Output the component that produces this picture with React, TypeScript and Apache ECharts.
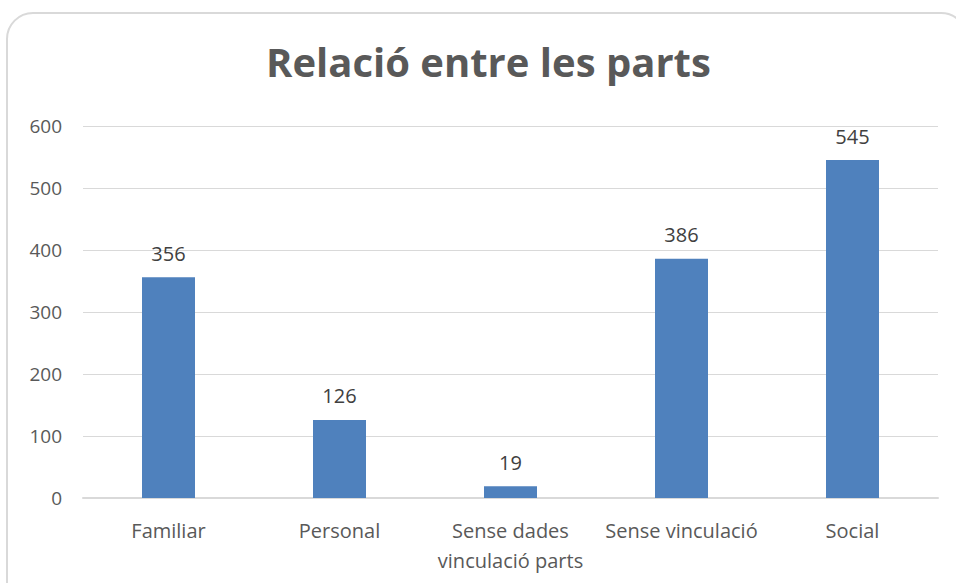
import React, { useEffect, useRef } from "react";
import * as echarts from "echarts";

const categories = ["Familiar", "Personal", "Sense dades\nvinculació parts", "Sense vinculació", "Social"];
const values = [356, 126, 19, 386, 545];
const titleText = "Relació entre les parts";

export default function App() {
  const ref = useRef<HTMLDivElement>(null);
  useEffect(() => {
    document.body.style.margin = "0";
    const chart = echarts.init(ref.current!, null, { renderer: "svg" });
    chart.setOption({
      animation: false,
      backgroundColor: "#ffffff",
      textStyle: { fontFamily: "Open Sans" },
      title: {
        text: titleText,
        left: 261,
        top: 36,
        textStyle: { fontSize: 40, fontWeight: "bold", color: "#595959", fontFamily: "Open Sans" },
      },
      graphic: [
        {
          type: "rect",
          shape: { x: 7, y: 13, width: 960, height: 620, r: 26 },
          style: { fill: "none", stroke: "#d9d9d9", lineWidth: 2 },
          silent: true,
          z: -1,
        },
      ],
      grid: { left: 83, right: 18, top: 126, bottom: 85 },
      xAxis: {
        type: "category",
        data: categories,
        axisLine: { lineStyle: { color: "#d9d9d9", width: 2 } },
        axisTick: { show: false },
        axisLabel: { color: "#595959", fontSize: 20, margin: 17, lineHeight: 30, interval: 0 },
      },
      yAxis: {
        type: "value",
        min: 0,
        max: 600,
        interval: 100,
        axisLine: { show: false },
        axisTick: { show: false },
        splitLine: { lineStyle: { color: "#d9d9d9", width: 1 } },
        axisLabel: { color: "#595959", fontSize: 19, margin: 21 },
      },
      series: [
        {
          type: "bar",
          data: values,
          barWidth: 53,
          itemStyle: { color: "#4f81bd" },
          label: { show: true, position: "top", distance: 14, color: "#404040", fontSize: 20 },
        },
      ],
    });
    return () => chart.dispose();
  }, []);
  return <div ref={ref} style={{ position: "absolute", left: 0, top: 0, width: 956, height: 583 }} />;
}
